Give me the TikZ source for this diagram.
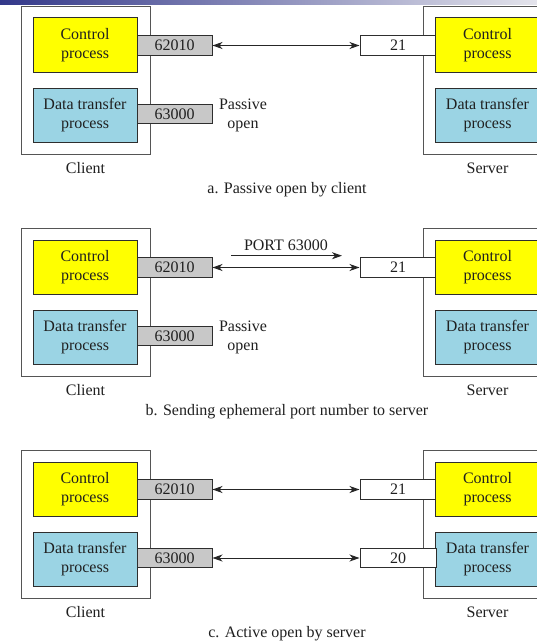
\documentclass[tikz,border=0pt]{standalone}
\usepackage{fontspec}
\setmainfont{Liberation Serif}
\usetikzlibrary{arrows.meta}
\definecolor{ctrlyellow}{HTML}{FFFF00}
\definecolor{datablue}{HTML}{9BD4E4}
\definecolor{portgrey}{HTML}{C8C8C8}
\definecolor{linec}{HTML}{2E2E2E}
\definecolor{hostline}{HTML}{555555}
\definecolor{txt}{HTML}{202020}
\definecolor{barleft}{HTML}{33388A}
\definecolor{barright}{HTML}{E4E4EC}
\begin{document}
\begin{tikzpicture}[x=1pt,y=-1pt,
  every node/.style={font=\fontsize{16}{19}\selectfont, text=txt},
  hostbox/.style={draw=hostline, line width=0.9pt, fill=white, minimum width=129pt, minimum height=148pt, inner sep=0pt},
  proc/.style={draw=linec, line width=1pt, minimum width=104pt, minimum height=54pt, inner sep=0pt, align=center},
  ctrl/.style={proc, fill=ctrlyellow},
  dtp/.style={proc, fill=datablue},
  cport/.style={draw=linec, line width=1pt, fill=portgrey, minimum width=75pt, minimum height=19.5pt, inner sep=0pt},
  sport/.style={cport, fill=white, minimum width=76pt},
  lbl/.style={inner sep=0pt, align=center},
  tip/.tip={Stealth[length=10pt,width=7pt,inset=3pt]},
  conn/.style={line width=1pt, draw=black!85, tip-tip},
  oneway/.style={line width=1pt, draw=black!85, -tip},
]
\useasboundingbox (0,0) rectangle (537,642);
\clip (0,0) rectangle (537,642);
\fill[white] (0,0) rectangle (537,642);
\shade[left color=barleft, right color=barright] (0,0) rectangle (537,4.5);

\foreach \p/\oy in {a/0,b/222,c/444}{
  \node[hostbox] (client\p) at (85.5,80+\oy) {};
  \node[hostbox] (server\p) at (487.5,80+\oy) {};
  \node[cport] (cc\p) at (174.5,45.5+\oy) {62010};
  \node[cport] (cd\p) at (174.5,114+\oy) {63000};
  \node[sport] (sc\p) at (398,45.5+\oy) {21};
  \node[ctrl] (ccp\p) at (85,45+\oy) {Control\\process};
  \node[dtp] (cdp\p) at (85,115+\oy) {Data transfer\\process};
  \node[ctrl] (scp\p) at (487.5,45+\oy) {Control\\process};
  \node[dtp] (sdp\p) at (487.5,115+\oy) {Data transfer\\process};
  \node[lbl] (clab\p) at (85.5,168+\oy) {Client};
  \node[lbl] (slab\p) at (487.5,168+\oy) {Server};
  \draw[conn] (cc\p.east) -- (sc\p.west);
}

\node[lbl] (capa) at (287,190) {a. Passive open by client};
\node[lbl] (capb) at (287,412) {b. Sending ephemeral port number to server};
\node[lbl] (capc) at (287,634) {c. Active open by server};

\node[lbl] (pasa) at (243,115) {Passive\\open};
\node[lbl] (pasb) at (243,337) {Passive\\open};

\node[lbl] (portmsg) at (286,245) {PORT 63000};
\coordinate (pms) at (231,255.7);
\coordinate (pme) at (342,255.7);
\draw[oneway] (pms) -- (pme);

\node[sport] (sdc) at (398,558) {20};
\draw[conn] (cdc.east) -- (sdc.west);
\end{tikzpicture}
\end{document}
